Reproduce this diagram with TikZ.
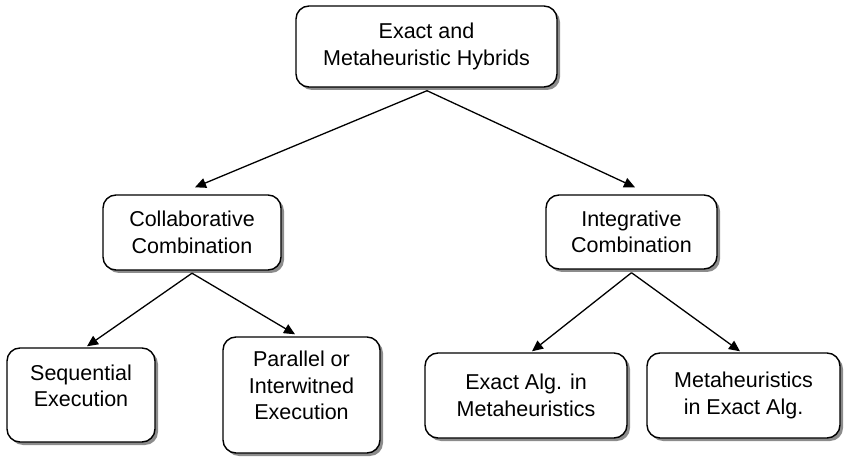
\documentclass[tikz,border=0pt]{standalone}
\usepackage{fontspec}
\setmainfont{Liberation Sans}
\usetikzlibrary{arrows.meta,shadows,calc}
\begin{document}
\begin{tikzpicture}[x=1pt,y=-1pt,
  box/.style={draw=black, line width=1.4pt, rounded corners=13pt, fill=white,
    align=center, inner sep=0pt, font=\fontsize{21.5}{26.5}\selectfont,
    drop shadow={shadow xshift=3pt, shadow yshift=-3pt, fill=black!45, opacity=1}},
  arr/.style={line width=1.3pt, -{Triangle[length=11pt,width=10pt]}}]
\useasboundingbox (0,0) rectangle (844,457);
\node[box, minimum width=261pt, minimum height=81pt] (top) at (426.5,46.5) {Exact and\\Metaheuristic Hybrids};
\node[box, minimum width=178pt, minimum height=75pt] (collab) at (192,232.5) {Collaborative\\Combination};
\node[box, minimum width=171pt, minimum height=74pt] (integ) at (631.5,232) {Integrative\\Combination};
\node[box, minimum width=148pt, minimum height=94pt, text depth=19pt] (seq) at (81,395) {Sequential\\Execution};
\node[box, minimum width=157pt, minimum height=116pt, text depth=19pt] (par) at (301.5,395) {Parallel or\\Interwitned\\Execution};
\node[box, minimum width=202pt, minimum height=85pt] (exa) at (526,395.5) {Exact Alg. in\\Metaheuristics};
\node[box, minimum width=193pt, minimum height=85pt] (met) at (743.5,395.5) {Metaheuristics\\in Exact Alg.};
\draw[arr] ($(top.south)+(0.5,3)$) -- ($(collab.north)+(3,-7)$);
\draw[arr] ($(top.south)+(0.5,3)$) -- ($(integ.north)+(3.5,-7)$);
\draw[arr] ($(collab.south)+(0,2.5)$) -- ($(seq.north)+(6,-1)$);
\draw[arr] ($(collab.south)+(0,2.5)$) -- ($(par.north)+(-6.5,-2)$);
\draw[arr] ($(integ.south)+(0,3)$) -- ($(exa.north)+(6,-1)$);
\draw[arr] ($(integ.south)+(0,3)$) -- ($(met.north)+(-3.5,-1)$);
\end{tikzpicture}
\end{document}
